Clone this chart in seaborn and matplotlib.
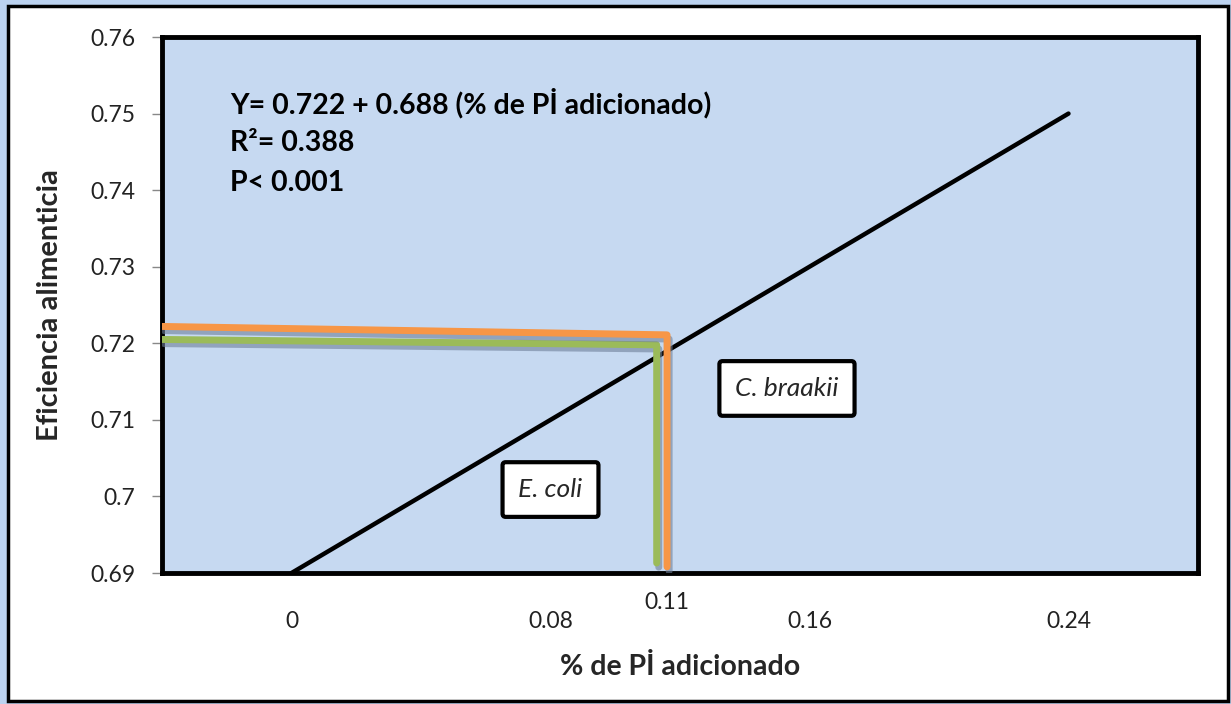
import matplotlib
matplotlib.use("Agg")
import matplotlib.pyplot as plt
import matplotlib.patheffects as pe
from matplotlib.patches import Rectangle
import seaborn as sns
import pandas as pd

# ---- data ----
categories = ["0", "0.08", "0.16", "0.24"]
efficiency = [0.69, 0.71, 0.73, 0.75]

# guide lines (x in category-position units)
braakii_x = [-0.5, 1.45, 1.45]
braakii_y = [0.7222, 0.7211, 0.6908]
coli_x = [-0.5, 1.41, 1.41]
coli_y = [0.7205, 0.7198, 0.6913]

y_ticks = [0.69, 0.70, 0.71, 0.72, 0.73, 0.74, 0.75, 0.76]
y_labels = ["0.69", "0.7", "0.71", "0.72", "0.73", "0.74", "0.75", "0.76"]

sns.set_style("white")
plt.rcParams["font.family"] = ["Lato", "DejaVu Sans"]

fig = plt.figure(figsize=(12.31, 7.04), dpi=100)
fig.patch.set_facecolor("#bcd3f0")
W, H = 1231, 704
fig.add_artist(Rectangle((8 / W, 3 / H), 1220 / W, 695 / H, transform=fig.transFigure,
                         facecolor="white", edgecolor="black", linewidth=2.5, zorder=0))

ax = fig.add_axes([162 / W, 1 - 573 / H, 1036 / W, 536 / H])
ax.set_facecolor("#c6d9f1")

df_main = pd.DataFrame({"x": range(len(categories)), "y": efficiency})
df_b = pd.DataFrame({"x": braakii_x, "y": braakii_y})
df_c = pd.DataFrame({"x": coli_x, "y": coli_y})

sns.lineplot(data=df_main, x="x", y="y", ax=ax, color="black", linewidth=3.2, zorder=2,
             sort=False, estimator=None)
shadow = [pe.SimpleLineShadow(offset=(1.5, -3), shadow_color="#6f7f99", alpha=0.6), pe.Normal()]
sns.lineplot(data=df_c, x="x", y="y", ax=ax, color="#9bbb59", linewidth=5, sort=False,
             estimator=None, zorder=3, path_effects=shadow)
sns.lineplot(data=df_b, x="x", y="y", ax=ax, color="#f79646", linewidth=5, sort=False,
             estimator=None, zorder=4, path_effects=shadow)

ax.set_xlim(-0.5, 3.5)
ax.set_ylim(0.69, 0.76)
ax.set_yticks(y_ticks)
ax.set_yticklabels(y_labels, fontsize=16.5, color="#222222")
ax.set_xticks(range(len(categories)))
ax.set_xticklabels(categories, fontsize=16.5, color="#222222")
ax.set_xticks([-0.5, 0.5, 1.5, 2.5, 3.5], minor=True)
ax.tick_params(axis="x", which="major", length=0, pad=27)
ax.tick_params(axis="x", which="minor", length=7, color="#888888", width=1, direction="out")
ax.tick_params(axis="y", length=7, color="#888888", width=1, pad=12, left=True)
ax.text(1.45, -0.055, "0.11", transform=ax.get_xaxis_transform(), ha="center", va="center",
        fontsize=16.5, color="#222222")

for s in ax.spines.values():
    s.set_visible(True)
    s.set_color("black")
    s.set_linewidth(3.5)
    s.set_path_effects([pe.SimplePatchShadow(offset=(2, -2), shadow_rgbFace="#888888", alpha=0.5), pe.Normal()])

ax.set_xlabel("% de Pİ adicionado", fontsize=20.5, fontweight="bold", labelpad=16)
ax.set_ylabel("Eficiencia alimenticia", fontsize=21, fontweight="bold", labelpad=20)

eq_lines = ["Y= 0.722 + 0.688 (% de Pİ adicionado)", "R²= 0.388", "P< 0.001"]
for i, t in enumerate(eq_lines):
    ax.text(0.0656, 0.877 - i * 0.0746, t, transform=ax.transAxes, fontsize=20.5,
            fontweight="bold", va="center", ha="left", color="black")

box = dict(boxstyle="round,pad=0.6,rounding_size=0.12", facecolor="white",
           edgecolor="black", linewidth=3)
ax.text(1.0, 0.7009, "E. coli", fontsize=19, style="italic", ha="center", va="center",
        bbox=box, zorder=5)
ax.text(1.913, 0.7141, "C. braakii", fontsize=19, style="italic", ha="center", va="center",
        bbox=box, zorder=5)

fig.savefig("out.png", dpi=100, facecolor=fig.get_facecolor())
